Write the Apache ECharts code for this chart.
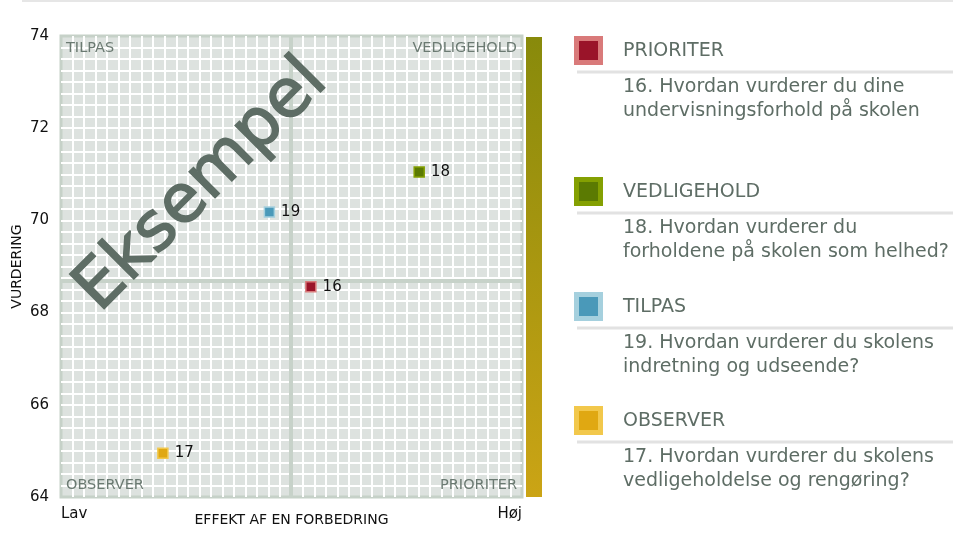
<!DOCTYPE html>
<html>
<head>
<meta charset="utf-8">
<script src="https://cdn.jsdelivr.net/npm/echarts@6/dist/echarts.min.js"></script>
<style>
  html, body { margin: 0; padding: 0; background: #fff; }
  #chart { width: 953px; height: 545px; }
</style>
</head>
<body>
<div id="chart"></div>
<script>
// Question numbers, effect (0–100, Lav → Høj) and rating per question
const questionIds = ['16', '17', '18', '19'];
const effectValues = [54.2, 22.1, 77.7, 45.2];
const ratingValues = [68.56, 64.95, 71.05, 70.18];
const quadrantOf = ['PRIORITER', 'OBSERVER', 'VEDLIGEHOLD', 'TILPAS'];
const questionLines = [
  ['16. Hvordan vurderer du dine', 'undervisningsforhold på skolen'],
  ['17. Hvordan vurderer du skolens', 'vedligeholdelse og rengøring?'],
  ['18. Hvordan vurderer du', 'forholdene på skolen som helhed?'],
  ['19. Hvordan vurderer du skolens', 'indretning og udseende?']
];
const legendOrder = [0, 2, 3, 1];
const yTickLabels = [64, 66, 68, 70, 72, 74];
const xEndLabels = ['Lav', 'Høj'];
const xAxisTitle = 'EFFEKT AF EN FORBEDRING';
const yAxisTitle = 'VURDERING';
const watermark = 'Eksempel';

// Quadrant colours: [fill, light rim]
const quadrantColors = {
  PRIORITER: ['#9a1429', '#d97a7a'],
  VEDLIGEHOLD: ['#5b7a02', '#84a002'],
  TILPAS: ['#4a99b9', '#a5d0de'],
  OBSERVER: ['#e0a812', '#f2c84c']
};

const mean = a => a.reduce((s, v) => s + v, 0) / a.length;
const meanX = mean(effectValues);
const meanY = mean(ratingValues);

const FONT = 'DejaVu Sans';
const GREY = '#5e6d65';

const points = questionIds.map((id, i) => {
  const c = quadrantColors[quadrantOf[i]];
  return {
    name: id,
    value: [effectValues[i], ratingValues[i]],
    itemStyle: { color: c[0], borderColor: c[1], borderWidth: 1.5, opacity: 1 }
  };
});

// Right-hand key
const keyTops = [36, 177, 292, 406];
const keyItems = [];
legendOrder.forEach((idx, k) => {
  const top = keyTops[k];
  const c = quadrantColors[quadrantOf[idx]];
  keyItems.push(
    { type: 'rect', shape: { x: 574, y: top, width: 29, height: 29 }, style: { fill: c[1] } },
    { type: 'rect', shape: { x: 579, y: top + 5, width: 19, height: 19 }, style: { fill: c[0] } },
    { type: 'text', style: { x: 623, y: top + 15, text: quadrantOf[idx], fill: GREY,
        font: '19px "' + FONT + '"', textVerticalAlign: 'middle' } },
    { type: 'line', shape: { x1: 577, y1: top + 36, x2: 953, y2: top + 36 },
      style: { stroke: '#e2e2e2', lineWidth: 3 } },
    { type: 'text', style: { x: 623, y: top + 51, text: questionLines[idx][0], fill: GREY,
        font: '19px "' + FONT + '"', textVerticalAlign: 'middle' } },
    { type: 'text', style: { x: 623, y: top + 75, text: questionLines[idx][1], fill: GREY,
        font: '19px "' + FONT + '"', textVerticalAlign: 'middle' } }
  );
});

const quadLabel = (text, x, y, align) => ({
  type: 'text', z: 5,
  style: { x, y, text, fill: '#6b7a72', font: '14.5px "' + FONT + '"',
    textAlign: align, textVerticalAlign: 'middle' }
});

const chart = echarts.init(document.getElementById('chart'), null, { renderer: 'canvas' });
chart.setOption({
  animation: false,
  textStyle: { fontFamily: FONT },
  grid: {
    left: 61, top: 36, width: 461, height: 461,
    show: true, backgroundColor: '#dde2df', borderColor: '#c6d1c8', borderWidth: 3
  },
  xAxis: {
    type: 'value', min: 0, max: 100, interval: 2.5,
    name: xAxisTitle, nameLocation: 'middle', nameGap: 16, nameMoveOverlap: false,
    nameTextStyle: { fontSize: 14, color: '#111', fontFamily: FONT },
    axisLine: { show: false }, axisTick: { show: false },
    axisLabel: {
      margin: 10, fontSize: 15, color: '#111', fontFamily: FONT,
      alignMinLabel: 'left', alignMaxLabel: 'right',
      formatter: v => (v === 0 ? xEndLabels[0] : v === 100 ? xEndLabels[1] : '')
    },
    splitLine: { show: true, showMinLine: false, showMaxLine: false,
      lineStyle: { color: '#ffffff', width: 2 } }
  },
  yAxis: {
    type: 'value', min: 64, max: 74, interval: 0.25,
    name: yAxisTitle, nameLocation: 'middle', nameGap: 37, nameRotate: 90, nameMoveOverlap: false,
    nameTextStyle: { fontSize: 14, color: '#111', fontFamily: FONT },
    axisLine: { show: false }, axisTick: { show: false },
    axisLabel: {
      margin: 12, fontSize: 15, color: '#111', fontFamily: FONT,
      formatter: v => (yTickLabels.includes(v) ? String(v) : '')
    },
    splitLine: { show: true, showMinLine: false, showMaxLine: false,
      lineStyle: { color: '#ffffff', width: 2 } }
  },
  series: [{
    type: 'scatter',
    symbol: 'rect',
    symbolSize: 10,
    data: points,
    z: 10,
    itemStyle: { opacity: 1 },
    label: {
      show: true, position: 'right', distance: 6,
      formatter: p => p.name, fontSize: 15, color: '#111', fontFamily: FONT
    },
    markLine: {
      silent: true, symbol: 'none', z: 1,
      label: { show: false },
      lineStyle: { color: '#c7d2c9', width: 4, type: 'solid', opacity: 1 },
      data: [{ xAxis: meanX }, { yAxis: meanY }]
    }
  }],
  graphic: [
    { type: 'line', shape: { x1: 22, y1: 1, x2: 953, y2: 1 }, style: { stroke: '#e6e6e6', lineWidth: 2 } },
    {
      type: 'rect', shape: { x: 526, y: 37, width: 16, height: 460 },
      style: {
        fill: new echarts.graphic.LinearGradient(0, 0, 0, 1, [
          { offset: 0, color: '#888a0b' },
          { offset: 1, color: '#cba415' }
        ])
      }
    },
    quadLabel('TILPAS', 66, 48.5, 'left'),
    quadLabel('VEDLIGEHOLD', 517, 48.5, 'right'),
    quadLabel('OBSERVER', 66, 485.5, 'left'),
    quadLabel('PRIORITER', 517, 485.5, 'right'),
    {
      type: 'text', z: 6, x: 202, y: 186, rotation: Math.PI / 4,
      style: { x: 0, y: 0, text: watermark, fill: '#5e6d65',
        stroke: '#5e6d65', lineWidth: 1.5,
        font: '67px "' + FONT + '"', textAlign: 'center', textVerticalAlign: 'middle' }
    },
    ...keyItems
  ]
});
</script>
</body>
</html>
